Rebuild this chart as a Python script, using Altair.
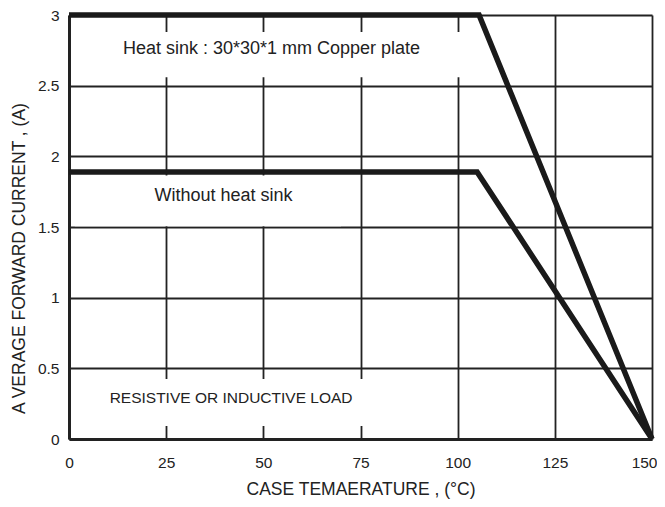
import altair as alt
import pandas as pd

# Curves (case temperature °C, average forward current A)
heat_x = [0, 105.5, 150]
heat_y = [3.0, 3.0, 0.0]
nohs_x = [0, 105.0, 150]
nohs_y = [1.89, 1.89, 0.0]

# Annotations
ann_text = ["Heat sink : 30*30*1 mm Copper plate", "Without heat sink", "RESISTIVE OR INDUCTIVE LOAD"]
ann_x = [52.1, 39.75, 41.7]
ann_y = [2.756, 1.719, 0.287]
ann_size = [18, 18, 15.5]
# white label backgrounds (data coords)
box_x1 = [1.5, 1.5, 7]
box_x2 = [103, 70, 80]
box_y1 = [2.56, 1.505, 0.092]
box_y2 = [2.88, 1.865, 0.425]

x_ticks = [0, 25, 50, 75, 100, 125, 150]
y_ticks = [0, 0.5, 1, 1.5, 2, 2.5, 3]

lines = pd.DataFrame({
    "x": heat_x + nohs_x,
    "y": heat_y + nohs_y,
    "s": ["heat"] * len(heat_x) + ["nohs"] * len(nohs_x),
})
boxes = pd.DataFrame({"x1": box_x1, "x2": box_x2, "y1": box_y1, "y2": box_y2})

FONT = "Liberation Sans"
xs = alt.Scale(domain=[0, 150], nice=False, zero=False)
ys = alt.Scale(domain=[0, 3], nice=False)

xaxis = alt.Axis(values=x_ticks, title="CASE TEMAERATURE , (°C)", grid=True,
                 gridColor="#222", gridWidth=1.8, gridOpacity=1,
                 domainColor="#222", domainWidth=3, ticks=False,
                 labelPadding=16, labelFontSize=15.5, labelFont=FONT, labelColor="#222",
                 labelAlign={"expr": "datum.value == 150 ? 'right' : 'center'"},
                 labelOffset={"expr": "datum.value == 150 ? 5 : 0"},
                 titleFont=FONT, titleFontSize=17.5, titleFontWeight="normal",
                 titleColor="#222", titlePadding=10, labelFlush=False)
yaxis = alt.Axis(values=y_ticks, title="A VERAGE FORWARD CURRENT , (A)", grid=True,
                 gridColor="#222", gridWidth=1.8, gridOpacity=1,
                 domainColor="#222", domainWidth=3, ticks=False,
                 labelPadding=10, labelFontSize=15.5, labelFont=FONT, labelColor="#222",
                 titleFont=FONT, titleFontSize=17.5, titleFontWeight="normal",
                 titleColor="#222", titlePadding=9, labelFlush=False,
                 format="~g", titleY=243)

rects = alt.Chart(boxes).mark_rect(color="white").encode(
    x=alt.X("x1:Q", scale=xs, axis=xaxis), x2="x2:Q",
    y=alt.Y("y1:Q", scale=ys, axis=yaxis), y2="y2:Q",
)

text_layers = []
for t, x, y, s in zip(ann_text, ann_x, ann_y, ann_size):
    df = pd.DataFrame({"t": [t], "x": [x], "y": [y]})
    text_layers.append(
        alt.Chart(df).mark_text(font=FONT, fontSize=s, color="#222",
                                align="center", baseline="middle").encode(
            x=alt.X("x:Q", scale=xs), y=alt.Y("y:Q", scale=ys), text="t:N")
    )

curves = alt.Chart(lines).mark_line(color="#1a1a1a", strokeWidth=5.5, strokeJoin="miter", clip=False).encode(
    x=alt.X("x:Q", scale=xs), y=alt.Y("y:Q", scale=ys), detail="s:N",
)

chart = alt.layer(rects, *text_layers, curves).properties(
    width=583, height=424,
    autosize=alt.AutoSizeParams(type="none"),
    padding={"left": 61, "top": 7, "right": 5, "bottom": 60},
    background="white",
).configure_view(stroke=None)

chart.save("out.html", embed_options={"renderer": "svg", "actions": False})
